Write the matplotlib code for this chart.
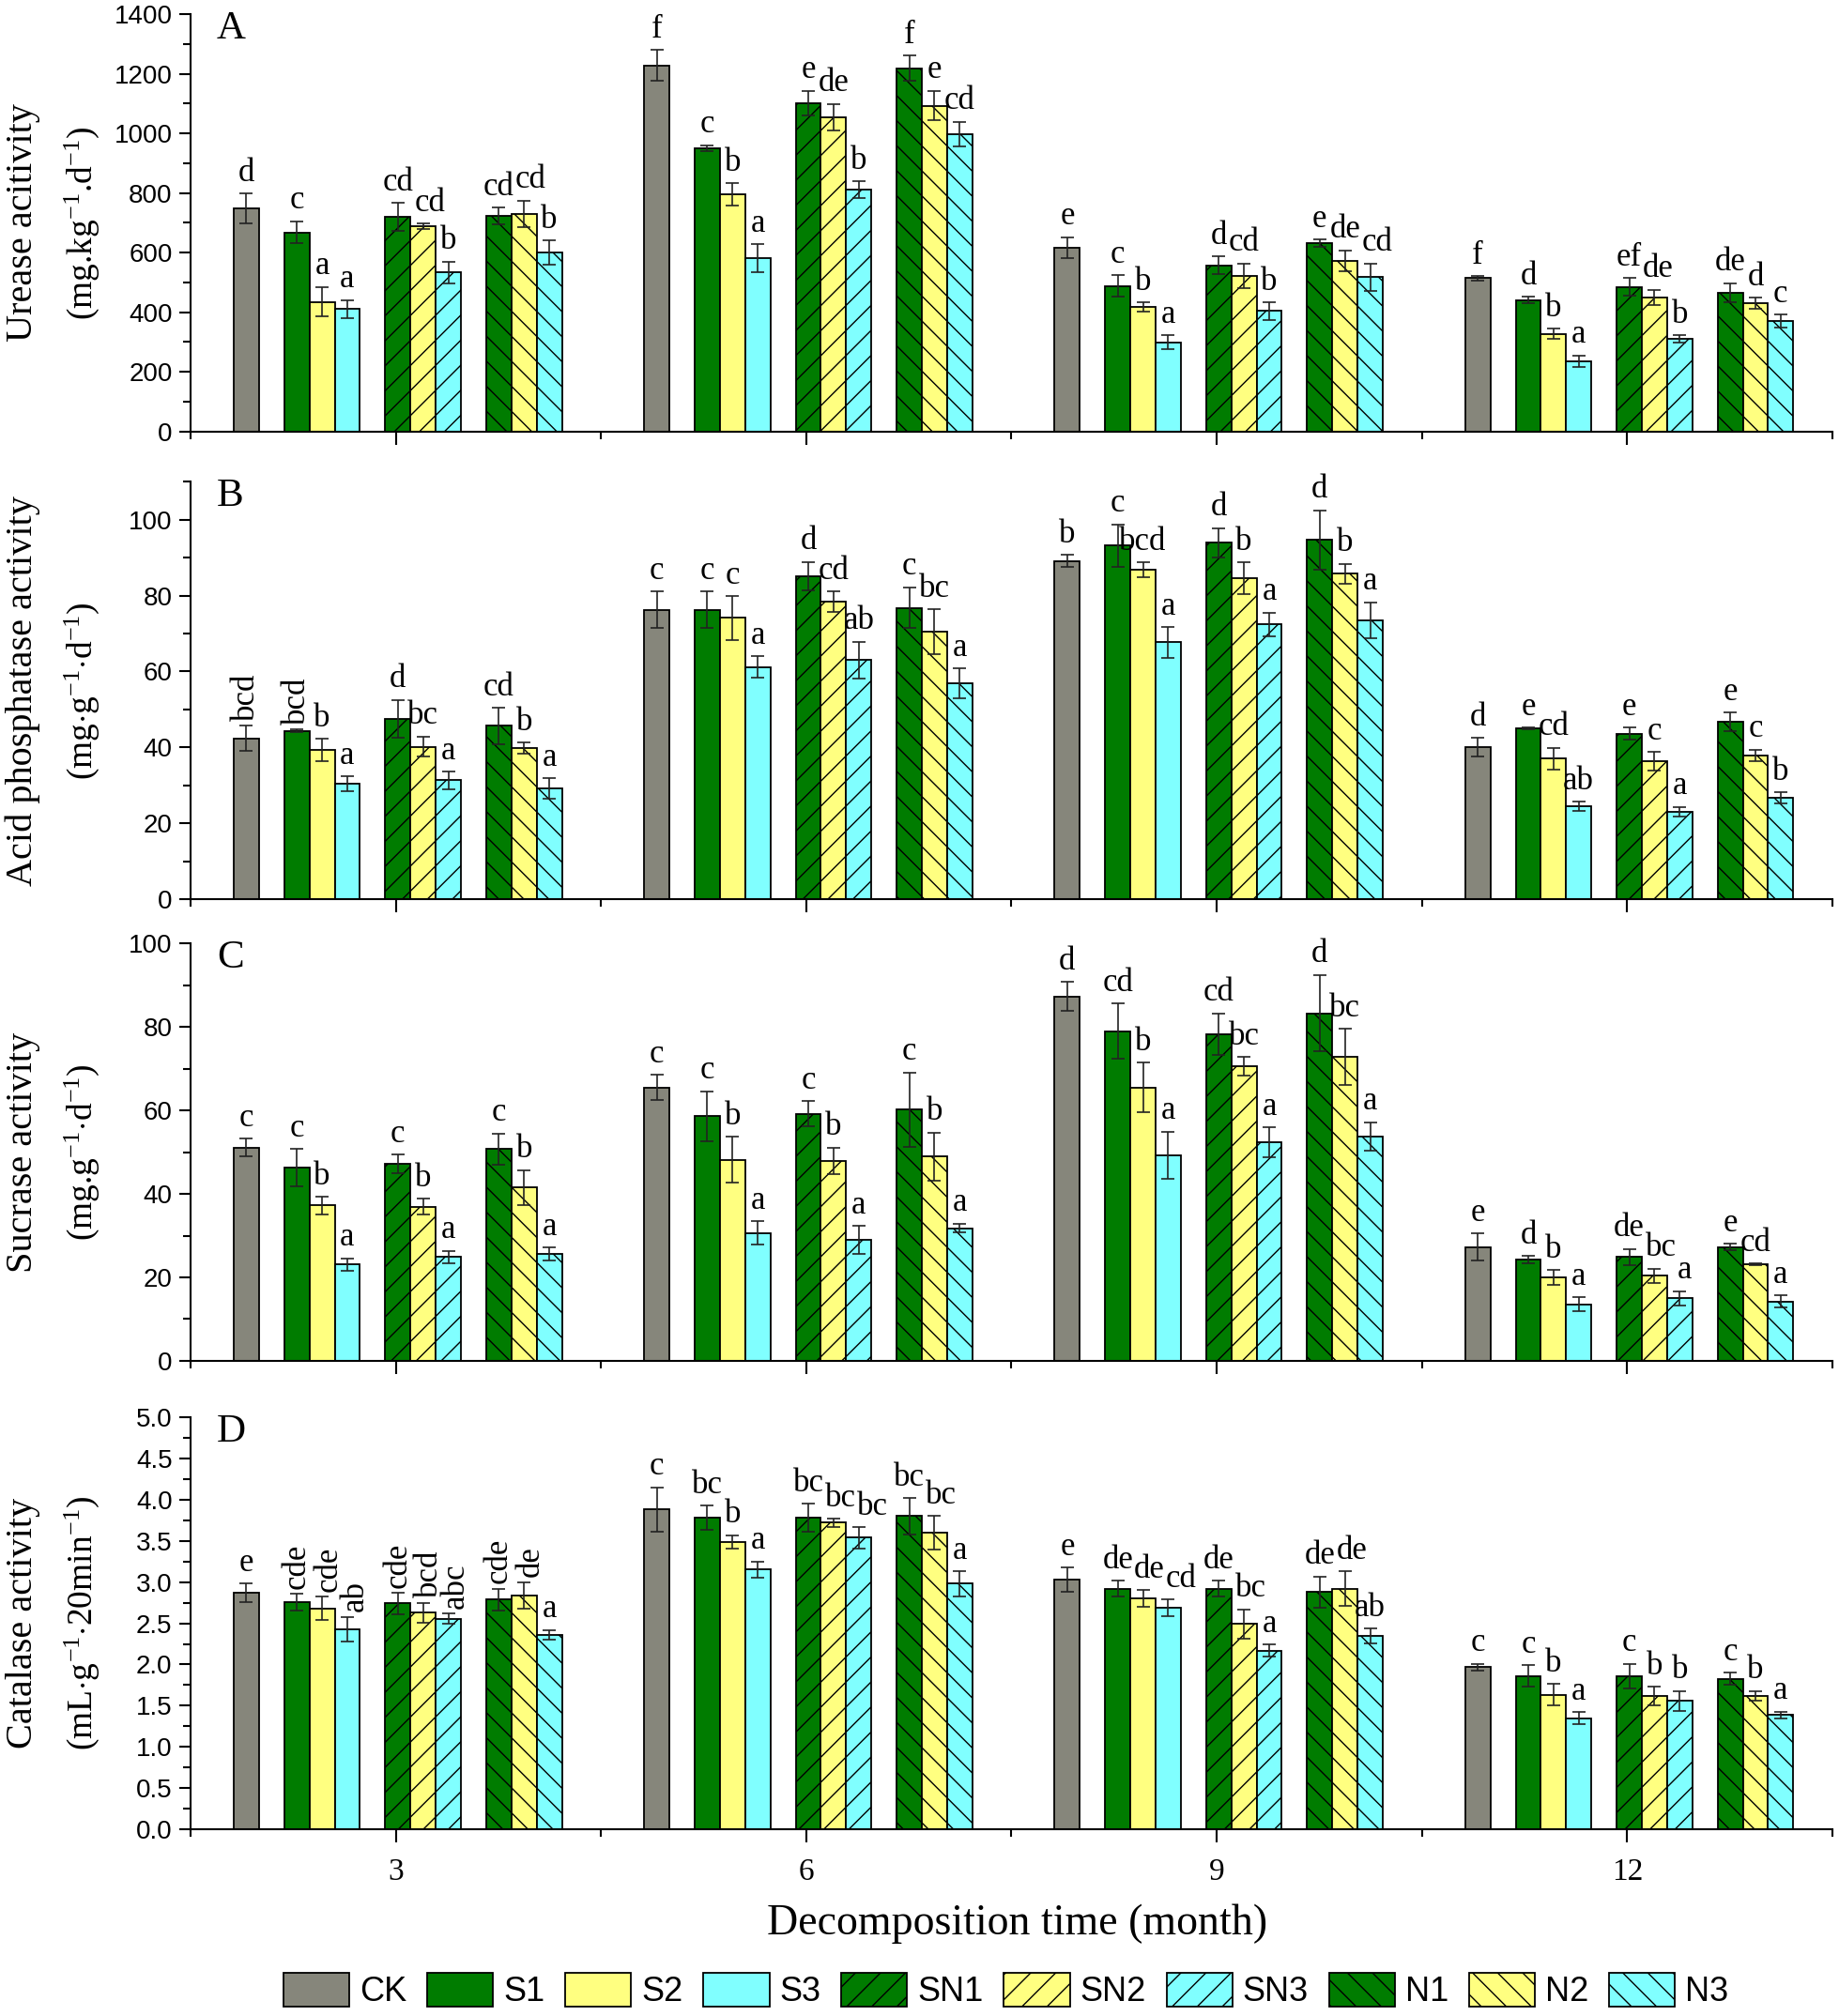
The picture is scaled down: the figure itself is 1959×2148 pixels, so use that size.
import matplotlib
matplotlib.use('Agg')
import matplotlib.pyplot as plt
import matplotlib.ticker as mt
from matplotlib.patches import Patch
import numpy as np

# treatments and sampling times
treatments = ['CK', 'S1', 'S2', 'S3', 'SN1', 'SN2', 'SN3', 'N1', 'N2', 'N3']
months = ['3', '6', '9', '12']

urease_mean = [[748, 668, 435, 411, 719, 688, 534, 723, 730, 599],
               [1227, 950, 795, 582, 1101, 1054, 811, 1219, 1093, 998],
               [617, 488, 417, 299, 557, 522, 404, 631, 572, 518],
               [514, 440, 327, 236, 485, 449, 310, 465, 430, 370]]
urease_err = [[50, 37, 50, 30, 47, 10, 36, 28, 45, 41],
              [52, 10, 37, 47, 42, 45, 28, 43, 50, 41],
              [35, 36, 16, 24, 30, 42, 29, 12, 36, 46],
              [8, 11, 17, 19, 29, 26, 13, 33, 19, 21]]
urease_letters = [['d', 'c', 'a', 'a', 'cd', 'cd', 'b', 'cd', 'cd', 'b'],
                  ['f', 'c', 'b', 'a', 'e', 'de', 'b', 'f', 'e', 'cd'],
                  ['e', 'c', 'b', 'a', 'd', 'cd', 'b', 'e', 'de', 'cd'],
                  ['f', 'd', 'b', 'a', 'ef', 'de', 'b', 'de', 'd', 'c']]

acp_mean = [[42.4, 44.4, 39.3, 30.4, 47.5, 40.2, 31.3, 45.7, 39.8, 29.2],
            [76.3, 76.3, 74.1, 61.2, 85.2, 78.4, 63.0, 76.8, 70.5, 56.9],
            [89.1, 93.2, 86.8, 67.7, 93.9, 84.5, 72.4, 94.7, 85.8, 73.5],
            [40.1, 45.1, 37.0, 24.5, 43.6, 36.3, 23.0, 46.7, 37.9, 26.7]]
acp_err = [[3.3, 0.3, 2.9, 1.9, 5.0, 2.7, 2.3, 4.8, 1.4, 2.7],
           [4.8, 4.8, 5.8, 2.8, 3.7, 2.7, 4.9, 5.4, 5.9, 3.9],
           [1.6, 5.6, 1.9, 4.0, 3.9, 4.2, 3.1, 7.8, 2.6, 4.8],
           [2.4, 0.2, 2.9, 1.2, 1.6, 2.5, 1.3, 2.5, 1.5, 1.5]]
acp_letters = [['bcd', 'bcd', 'b', 'a', 'd', 'bc', 'a', 'cd', 'b', 'a'],
               ['c', 'c', 'c', 'a', 'd', 'cd', 'ab', 'c', 'bc', 'a'],
               ['b', 'c', 'bcd', 'a', 'd', 'b', 'a', 'd', 'b', 'a'],
               ['d', 'e', 'cd', 'ab', 'e', 'c', 'a', 'e', 'c', 'b']]

sucrase_mean = [[51.1, 46.3, 37.2, 23.1, 47.2, 36.9, 24.9, 50.7, 41.5, 25.6],
                [65.5, 58.6, 48.2, 30.6, 59.2, 47.9, 29.0, 60.2, 48.9, 31.8],
                [87.3, 79.0, 65.5, 49.3, 78.3, 70.6, 52.4, 83.3, 72.8, 53.8],
                [27.3, 24.3, 20.0, 13.5, 24.9, 20.4, 15.0, 27.3, 23.2, 14.2]]
sucrase_err = [[2.1, 4.4, 2.1, 1.5, 2.2, 1.9, 1.5, 3.8, 4.2, 1.5],
               [3.0, 6.0, 5.5, 2.8, 3.0, 3.2, 3.4, 8.9, 5.8, 1.1],
               [3.5, 6.7, 6.0, 5.6, 5.0, 2.2, 3.6, 9.2, 6.7, 3.4],
               [3.2, 0.9, 1.7, 1.7, 1.9, 1.7, 1.7, 0.7, 0.2, 1.5]]
sucrase_letters = [['c', 'c', 'b', 'a', 'c', 'b', 'a', 'c', 'b', 'a'],
                   ['c', 'c', 'b', 'a', 'c', 'b', 'a', 'c', 'b', 'a'],
                   ['d', 'cd', 'b', 'a', 'cd', 'bc', 'a', 'd', 'bc', 'a'],
                   ['e', 'd', 'b', 'a', 'de', 'bc', 'a', 'e', 'cd', 'a']]

catalase_mean = [[2.87, 2.76, 2.68, 2.43, 2.74, 2.63, 2.555, 2.79, 2.84, 2.36],
                 [3.88, 3.78, 3.49, 3.15, 3.78, 3.72, 3.54, 3.80, 3.60, 2.98],
                 [3.03, 2.92, 2.80, 2.69, 2.92, 2.49, 2.17, 2.88, 2.92, 2.35],
                 [1.97, 1.86, 1.635, 1.35, 1.86, 1.62, 1.56, 1.825, 1.62, 1.39]]
catalase_err = [[0.11, 0.10, 0.14, 0.15, 0.13, 0.12, 0.06, 0.13, 0.16, 0.06],
                [0.27, 0.15, 0.08, 0.10, 0.17, 0.05, 0.13, 0.22, 0.20, 0.15],
                [0.15, 0.10, 0.10, 0.10, 0.10, 0.18, 0.07, 0.19, 0.21, 0.09],
                [0.04, 0.13, 0.13, 0.07, 0.15, 0.11, 0.12, 0.075, 0.06, 0.04]]
catalase_letters = [['e', 'cde', 'cde', 'ab', 'cde', 'bcd', 'abc', 'cde', 'de', 'a'],
                    ['c', 'bc', 'b', 'a', 'bc', 'bc', 'bc', 'bc', 'bc', 'a'],
                    ['e', 'de', 'de', 'cd', 'de', 'bc', 'a', 'de', 'de', 'ab'],
                    ['c', 'c', 'b', 'a', 'c', 'b', 'b', 'c', 'b', 'a']]

# styles
colors = ['#86867b', '#007c00', '#ffff80', '#80ffff',
          '#007c00', '#ffff80', '#80ffff', '#007c00', '#ffff80', '#80ffff']
hatches = ['', '', '', '', '/', '/', '/', '\\', '\\', '\\']
slots = np.array([-6, -4, -3, -2, 0, 1, 2, 4, 5, 6])
w = 0.0615
shift = 0.005

# a lower dpi gives denser hatching; sizes are scaled so pixels stay the same
DPI = 80
S = 100.0 / DPI

serif = 'Liberation Serif'
sans = 'Liberation Sans'
plt.rcParams['font.family'] = [sans, 'DejaVu Sans']
plt.rcParams['mathtext.fontset'] = 'custom'
plt.rcParams['mathtext.rm'] = serif
plt.rcParams['mathtext.it'] = serif + ':italic'
plt.rcParams['hatch.linewidth'] = 1.0 * S
plt.rcParams['axes.linewidth'] = 1.5 * S

panels = [
    ('A', urease_mean, urease_err, urease_letters, 1400, 200, 100,
     'Urease acitivity', '(mg.kg$^{-1}$.d$^{-1}$)', set(), '%d'),
    ('B', acp_mean, acp_err, acp_letters, 110, 20, 10,
     'Acid phosphatase activity', '(mg$\\cdot$g$^{-1}$$\\cdot$d$^{-1}$)', {(0, 0), (0, 1)}, '%d'),
    ('C', sucrase_mean, sucrase_err, sucrase_letters, 100, 20, 10,
     'Sucrase activity', '(mg.g$^{-1}$$\\cdot$d$^{-1}$)', set(), '%d'),
    ('D', catalase_mean, catalase_err, catalase_letters, 5.0, 0.5, 0.25,
     'Catalase activity', '(mL$\\cdot$g$^{-1}$$\\cdot$20min$^{-1}$)',
     {(0, k) for k in range(1, 9)}, '%.1f'),
]
boxes = [(0.786, 0.207), (0.554, 0.207), (0.325, 0.207), (0.0926, 0.2044)]

fig = plt.figure(figsize=(1959 / DPI, 2148 / DPI), dpi=DPI)

letter_texts = []
for (name, mean, err, letters, ymax, major, minor, lab1, lab2, rotset, fmt), (b, h) in zip(panels, boxes):
    ax = fig.add_axes([0.1036, b, 0.8928, h])
    mean = np.array(mean)
    err = np.array(err)
    row = [[None] * len(treatments) for _ in months]
    for k in range(len(treatments)):
        xs = np.arange(len(months)) + slots[k] * w + shift
        ax.bar(xs, mean[:, k], width=w, color=colors[k], edgecolor='black',
               linewidth=1.3 * S, hatch=hatches[k], zorder=2)
        ax.errorbar(xs, mean[:, k], yerr=err[:, k], fmt='none', ecolor='#222222',
                    elinewidth=1.2 * S, capsize=5 * S, capthick=1.2 * S, zorder=3)
        for g in range(len(months)):
            ytxt = mean[g, k] + err[g, k] + 0.012 * ymax
            rot = 90 if (g, k) in rotset else 0
            t = ax.text(xs[g], ytxt, letters[g][k], rotation=rot, ha='center', va='bottom',
                        fontsize=25 * S, family=serif)
            row[g][k] = (t, rot)
    letter_texts.append((ax, row))
    ax.set_xlim(-0.5, 3.5)
    ax.set_ylim(0, ymax)
    ax.spines['top'].set_visible(False)
    ax.spines['right'].set_visible(False)
    ax.yaxis.set_major_locator(mt.MultipleLocator(major))
    ax.yaxis.set_minor_locator(mt.MultipleLocator(minor))
    ax.yaxis.set_major_formatter(mt.FormatStrFormatter(fmt))
    ax.set_xticks(range(len(months)))
    ax.set_xticks([-0.5, 0.5, 1.5, 2.5, 3.5], minor=True)
    ax.tick_params(axis='y', which='major', length=9 * S, width=1.5 * S, labelsize=20 * S, pad=5 * S)
    ax.tick_params(axis='y', which='minor', length=6 * S, width=1.5 * S)
    ax.tick_params(axis='x', which='major', length=10 * S, width=1.5 * S, pad=12 * S)
    ax.tick_params(axis='x', which='minor', length=6 * S, width=1.5 * S)
    if name == 'D':
        ax.set_xticklabels(months, fontsize=24 * S, family=serif)
    else:
        ax.set_xticklabels([])
    ax.text(0.016, 0.965, name, transform=ax.transAxes, ha='left', va='center',
            fontsize=31 * S, family=serif)
    ax.text(-0.102, 0.5, lab1, transform=ax.transAxes, rotation=90, ha='center',
            va='center', fontsize=29 * S, family=serif)
    ax.text(-0.066, 0.5, lab2, transform=ax.transAxes, rotation=90, ha='center',
            va='center', fontsize=27 * S, family=serif)

fig.text(0.553, 0.0456, 'Decomposition time (month)', ha='center', va='center',
         fontsize=33 * S, family=serif)

handles = [Patch(facecolor=colors[k], edgecolor='black', hatch=hatches[k], linewidth=1.3 * S)
           for k in range(len(treatments))]
fig.legend(handles, treatments, loc='center', bbox_to_anchor=(0.547, 0.0125), ncol=10,
           frameon=False, handlelength=1.95, handleheight=1.15, handletextpad=0.3,
           columnspacing=0.6, prop={'family': ['Liberation Sans Narrow', sans], 'size': 26 * S})

# nudge letters that would collide with their left neighbour
fig.canvas.draw()
renderer = fig.canvas.get_renderer()
for ax, row in letter_texts:
    for g in range(len(months)):
        prev = None
        for t, rot in row[g]:
            bb = t.get_window_extent(renderer)
            if prev is not None:
                overlap_x = prev.x1 - bb.x0
                overlap_y = min(prev.y1, bb.y1) - max(prev.y0, bb.y0)
                if overlap_x > 0 and overlap_y > 0:
                    x, y = t.get_position()
                    if rot == 0:
                        dx = (overlap_x + 1) / ax.bbox.width * 4.0
                    else:
                        # rotated labels: only a small sideways spread
                        dx = min(overlap_x + 1, 8) / ax.bbox.width * 4.0
                    t.set_position((x + dx, y))
                    bb = t.get_window_extent(renderer)
            prev = bb

fig.savefig('out.png', dpi=DPI)
